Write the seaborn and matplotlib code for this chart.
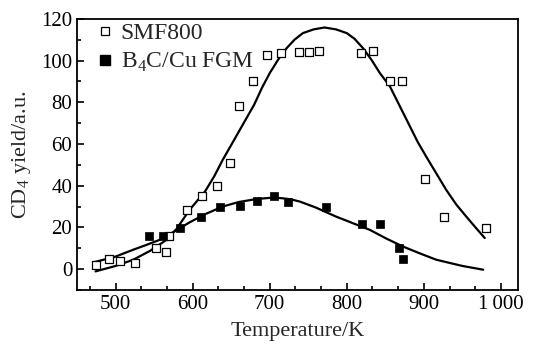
import numpy as np
import pandas as pd
import matplotlib
matplotlib.use("Agg")
import matplotlib.pyplot as plt
from matplotlib.ticker import AutoMinorLocator, FixedLocator, FixedFormatter
from matplotlib.lines import Line2D
import seaborn as sns

# ---- measured points ----
smf_T = [474, 492, 506, 525, 553, 566, 569, 593, 612, 631, 648, 660, 678,
         696, 714, 738, 751, 764, 819, 834, 856, 872, 901, 926, 981]
smf_y = [2.1, 4.9, 4.0, 3.0, 10.2, 8.3, 16.0, 28.4, 35.2, 40.0, 51.0, 78.4,
         90.3, 102.8, 103.7, 104.2, 104.0, 104.4, 103.9, 104.8, 90.0, 90.0,
         43.0, 24.9, 19.8]

fgm_T = [543, 561, 584, 611, 636, 661, 684, 705, 724, 773, 820, 843, 868, 873]
fgm_y = [15.8, 15.8, 19.8, 25.2, 30.0, 30.4, 32.9, 35.2, 32.3, 29.7, 21.6,
         21.6, 9.9, 4.8]

# ---- fitted curves ----
smf_fit_T = [474, 500, 523, 545, 566, 579, 596, 616, 628, 639, 650, 660,
             670, 680, 690, 700, 711, 722, 732, 743, 757, 771, 786, 800,
             810, 821, 832, 843, 856, 869, 882, 892, 903, 916, 929, 942,
             955, 967, 979]
smf_fit_y = [-1.1, 1.5, 4.5, 8.8, 14.0, 19.2, 28.4, 37.2, 44.5, 52.4, 59.5,
             66.0, 72.5, 79.0, 87.0, 94.0, 100.5, 106.0, 110.0, 113.2, 115.0,
             115.9, 115.0, 113.2, 110.5, 106.0, 100.4, 94.0, 87.6, 78.0, 68.4,
             61.0, 54.0, 46.0, 38.0, 31.0, 25.2, 20.0, 14.9]

fgm_fit_T = [471, 500, 523, 540, 557, 579, 596, 616, 639, 660, 683, 704,
             716, 727, 739, 760, 786, 808, 830, 851, 873, 895, 916, 950, 977]
fgm_fit_y = [3.2, 6.0, 9.3, 11.6, 14.0, 18.6, 22.4, 26.3, 30.0, 32.2, 33.6,
             34.3, 34.0, 33.5, 32.4, 29.5, 25.2, 22.0, 18.8, 14.7, 10.8, 7.5,
             4.5, 1.5, -0.3]

xticks = [500, 600, 700, 800, 900, 1000]
xtick_labels = ['500', '600', '700', '800', '900', '1\u2009000']
yticks = [0, 20, 40, 60, 80, 100, 120]

sns.set_theme(style='ticks')
plt.rcParams['font.family'] = ['Liberation Serif', 'DejaVu Serif']
plt.rcParams['mathtext.fontset'] = 'custom'
plt.rcParams['mathtext.rm'] = 'Liberation Serif'

fig = plt.figure(figsize=(5.35, 3.51), dpi=100)
ax = fig.add_axes([0.144, 0.174, 0.824, 0.772])

df_smf = pd.DataFrame({'T': smf_T, 'y': smf_y})
df_fgm = pd.DataFrame({'T': fgm_T, 'y': fgm_y})
df_smf_fit = pd.DataFrame({'T': smf_fit_T, 'y': smf_fit_y})
df_fgm_fit = pd.DataFrame({'T': fgm_fit_T, 'y': fgm_fit_y})

sns.lineplot(data=df_smf_fit, x='T', y='y', ax=ax, color='black', lw=1.6,
             sort=False, legend=False)
sns.lineplot(data=df_fgm_fit, x='T', y='y', ax=ax, color='black', lw=1.6,
             sort=False, legend=False)
sns.scatterplot(data=df_smf, x='T', y='y', ax=ax, marker='s', s=30,
                facecolor='white', edgecolor='black', linewidth=0.9, zorder=3)
sns.scatterplot(data=df_fgm, x='T', y='y', ax=ax, marker='s', s=38,
                color='black', edgecolor='black', linewidth=0.5, zorder=3)

ax.set_xlim(450, 1022)
ax.set_ylim(-10, 120)
ax.xaxis.set_major_locator(FixedLocator(xticks))
ax.xaxis.set_major_formatter(FixedFormatter(xtick_labels))
ax.xaxis.set_minor_locator(AutoMinorLocator(3))
ax.set_yticks(yticks)
ax.yaxis.set_minor_locator(AutoMinorLocator(2))
ax.tick_params(which='both', direction='in', labelsize=15, width=1.2,
               colors='black')
ax.tick_params(which='major', length=5)
ax.tick_params(which='minor', length=3)
for sp in ax.spines.values():
    sp.set_linewidth(1.3)
    sp.set_color('black')
    sp.set_visible(True)

ax.set_xlabel('Temperature/K', fontsize=16, labelpad=6)
ax.set_ylabel('CD$_4$ yield/a.u.', fontsize=16, labelpad=6)

handles = [Line2D([], [], ls='none', marker='s', ms=6, mfc='white',
                  mec='black', mew=0.9),
           Line2D([], [], ls='none', marker='s', ms=6.5, mfc='black',
                  mec='black')]
ax.legend(handles, ['SMF800', 'B$_4$C/Cu FGM'], loc='upper left',
          bbox_to_anchor=(0.005, 1.04), frameon=False, fontsize=17,
          handletextpad=0.15, labelspacing=0.3, handlelength=1.0,
          borderaxespad=0.2)

fig.savefig('out.png', dpi=100)
